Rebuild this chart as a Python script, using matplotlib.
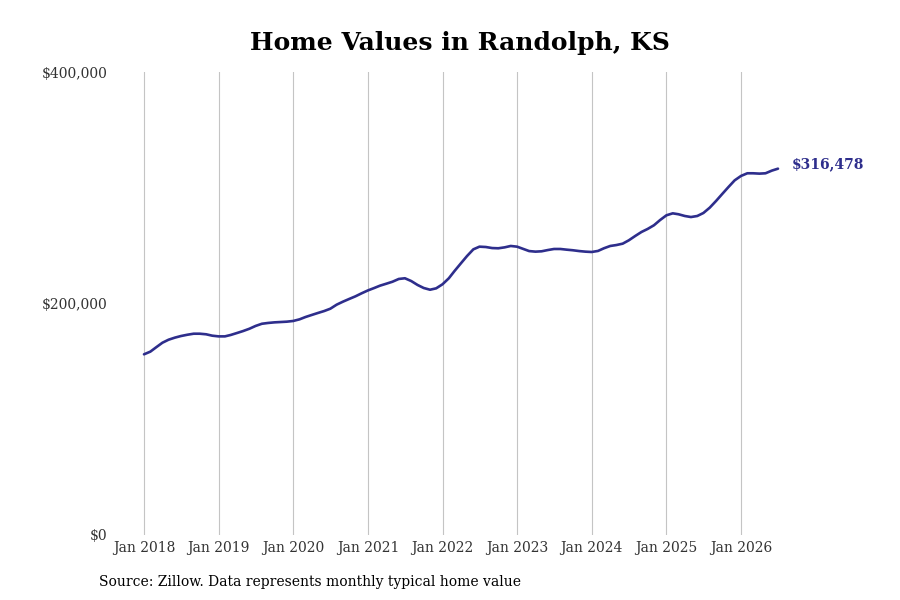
import numpy as np
import pandas as pd
import matplotlib.pyplot as plt
import matplotlib.dates as mdates
from matplotlib.ticker import FuncFormatter

# monthly typical home value, Jan 2018 - Jul 2026
values_2018 = [156100, 158400, 162100, 166100, 168700, 170500, 171900, 173000, 173900, 173900, 173400, 172200]
values_2019 = [171600, 171600, 172800, 174500, 176200, 178200, 180600, 182500, 183200, 183700, 184000, 184300]
values_2020 = [184900, 186300, 188300, 190100, 191800, 193500, 195500, 199000, 201600, 203900, 206200, 208800]
values_2021 = [211300, 213400, 215400, 217100, 218800, 221200, 221800, 219400, 216000, 213400, 211900, 213100]
values_2022 = [216600, 221800, 228100, 234700, 241000, 246800, 249100, 248800, 247900, 247700, 248500, 249700]
values_2023 = [249100, 247100, 245300, 244800, 245100, 246200, 247100, 247100, 246500, 246000, 245300, 244800]
values_2024 = [244500, 245400, 247700, 249700, 250500, 251700, 254600, 258300, 261800, 264400, 267600, 272100]
values_2025 = [276200, 277900, 277100, 275600, 274700, 275600, 278200, 282800, 288600, 294600, 300700, 306400]
values_2026 = [310200, 312500, 312500, 312200, 312500, 314800, 316478]

values = (values_2018 + values_2019 + values_2020 + values_2021 + values_2022
          + values_2023 + values_2024 + values_2025 + values_2026)
dates = pd.date_range("2018-01-01", periods=len(values), freq="MS")
tick_years = list(range(2018, 2027))

title = "Home Values in Randolph, KS"
source = "Source: Zillow. Data represents monthly typical home value"
line_color = "#2e2e8c"

plt.rcParams['font.family'] = ['DejaVu Serif']

fig = plt.figure(figsize=(9, 6), dpi=100)
ax = fig.add_axes([120 / 900, 65 / 600, 680 / 900, 463 / 600])

ax.plot(dates, values, color=line_color, linewidth=1.9, solid_capstyle='round')

# x range so that Jan 2018 sits at x=144 px and Jan 2026 at x=741 px
x0 = mdates.date2num(pd.Timestamp("2018-01-01"))
x1 = mdates.date2num(pd.Timestamp("2026-01-01"))
px_per_day = (741 - 144) / (x1 - x0)
ax.set_xlim(x0 - (144 - 120) / px_per_day, x0 + (800 - 144) / px_per_day)
ax.set_ylim(0, 400000)

ax.set_xticks([pd.Timestamp(f"{y}-01-01") for y in tick_years])
ax.set_xticklabels([f"Jan {y}" for y in tick_years])
ax.set_yticks([0, 200000, 400000])
ax.yaxis.set_major_formatter(FuncFormatter(lambda v, p: f"${v:,.0f}"))

ax.grid(axis='x', color='#c4c4c4', linewidth=0.8)
ax.grid(axis='y', visible=False)
for s in ax.spines.values():
    s.set_visible(False)
ax.tick_params(axis='both', length=0, labelsize=10, colors='#333333')
ax.tick_params(axis='x', pad=4)
ax.tick_params(axis='y', pad=9)

ax.annotate(f"${values[-1]:,}", xy=(dates[-1], values[-1]),
            xytext=(10, 3), textcoords='offset points',
            ha='left', va='center', fontsize=10, fontweight='bold',
            color=line_color, annotation_clip=False)

fig.suptitle(title, x=460 / 900, y=1 - 43 / 600, va='center',
             fontsize=18, fontweight='bold', color='black')
fig.text(99 / 900, 1 - 582 / 600, source, ha='left', va='center',
         fontsize=10, color='black')

fig.savefig("out.png", dpi=100)
